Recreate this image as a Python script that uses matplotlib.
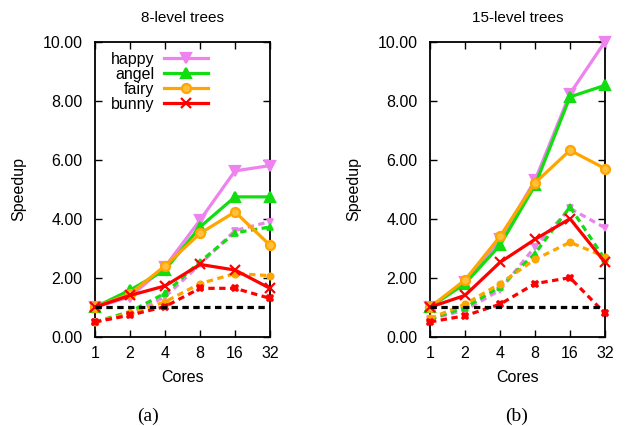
import numpy as np
import matplotlib.pyplot as plt

plt.rcParams['font.family'] = ['Liberation Sans', 'DejaVu Sans']

cores = ['1', '2', '4', '8', '16', '32']
models = ['happy', 'angel', 'fairy', 'bunny']

# 8-level trees
solid_8 = {
    'happy': [1.0, 1.35, 2.37, 3.95, 5.62, 5.80],
    'angel': [1.0, 1.58, 2.26, 3.72, 4.74, 4.74],
    'fairy': [1.0, 1.45, 2.40, 3.50, 4.23, 3.10],
    'bunny': [1.0, 1.40, 1.72, 2.45, 2.26, 1.64],
}
dashed_8 = {
    'happy': [0.50, 0.75, 1.35, 2.45, 3.60, 3.90],
    'angel': [0.50, 0.85, 1.47, 2.54, 3.52, 3.72],
    'fairy': [0.50, 0.79, 1.18, 1.80, 2.14, 2.07],
    'bunny': [0.50, 0.73, 1.02, 1.64, 1.64, 1.30],
}

# 15-level trees
solid_15 = {
    'happy': [1.0, 1.85, 3.30, 5.30, 8.24, 10.0],
    'angel': [1.0, 1.80, 3.10, 5.13, 8.13, 8.52],
    'fairy': [1.0, 1.92, 3.40, 5.21, 6.32, 5.70],
    'bunny': [1.0, 1.40, 2.52, 3.30, 4.00, 2.52],
}
dashed_15 = {
    'happy': [0.60, 0.90, 1.58, 3.05, 4.35, 3.69],
    'angel': [0.60, 0.98, 1.69, 2.82, 4.40, 2.62],
    'fairy': [0.62, 1.10, 1.80, 2.62, 3.20, 2.71],
    'bunny': [0.50, 0.71, 1.10, 1.80, 2.00, 0.79],
}

colors = {'happy': '#EE82EE', 'angel': '#11DD11', 'fairy': '#FFA500', 'bunny': '#FF0000'}
markers = {'happy': 'v', 'angel': '^', 'fairy': 'o', 'bunny': 'x'}
dmarkers = {'happy': 'v', 'angel': '^', 'fairy': 'o', 'bunny': 'X'}

fig = plt.figure(figsize=(6.25, 4.26), dpi=100)
ax1 = fig.add_axes([95 / 625, 1 - 336.7 / 426, 175 / 625, 295 / 426])
ax2 = fig.add_axes([430 / 625, 1 - 336.7 / 426, 175 / 625, 295 / 426])

x = np.arange(len(cores))

def draw(ax, solid, dashed, title, tag, xfig):
    for m in models:
        ax.plot(x, dashed[m], color=colors[m], linestyle=(0, (2, 1.4)), linewidth=2.3,
                marker=dmarkers[m], markersize=4.5, markeredgewidth=1.3, clip_on=False, zorder=3)
    for m in models:
        mfc = '#FFC040' if m == 'fairy' else colors[m]
        ax.plot(x, solid[m], color=colors[m], linewidth=2.3, marker=markers[m],
                markersize=6.5, markeredgewidth=1.6, markerfacecolor=mfc,
                clip_on=False, label=m, zorder=4)
    ax.plot(x, np.ones(len(x)), color='black', linestyle=(0, (2, 1.4)), linewidth=2.3, zorder=5)

    ax.set_xlim(0, len(cores) - 1)
    ax.set_ylim(0, 10)
    ax.set_xticks(x)
    ax.set_xticklabels(cores)
    ax.set_yticks(np.arange(0, 11, 2))
    ax.set_yticklabels(['%.2f' % v for v in np.arange(0, 11, 2)])
    ax.tick_params(direction='in', top=True, right=True, length=5, width=1,
                   labelsize=11.5)
    ax.tick_params(axis='y', pad=9)
    ax.tick_params(axis='x', pad=7)
    for s in ax.spines.values():
        s.set_linewidth(1.3)

    ax.text(0.5, 1.08, title, transform=ax.transAxes, ha='center', va='center', fontsize=11)
    ax.text(0.5, -0.14, 'Cores', transform=ax.transAxes, ha='center', va='center', fontsize=11.5)
    ax.text(-0.435, 0.5, 'Speedup', transform=ax.transAxes, ha='center', va='center',
            rotation=90, fontsize=11.5)
    fig.text(xfig / 625, 1 - 416 / 426, tag, ha='center', va='center',
             fontsize=14, family='Liberation Serif')

draw(ax1, solid_8, dashed_8, '8-level trees', '(a)', 148)
draw(ax2, solid_15, dashed_15, '15-level trees', '(b)', 517)

ax1.legend(loc='upper left', bbox_to_anchor=(0.03, 1.0), frameon=False, markerfirst=False,
           handlelength=2.8, labelspacing=0.0, fontsize=11.5, borderaxespad=0.25,
           handletextpad=0.6)

fig.savefig('out.png', dpi=100)
